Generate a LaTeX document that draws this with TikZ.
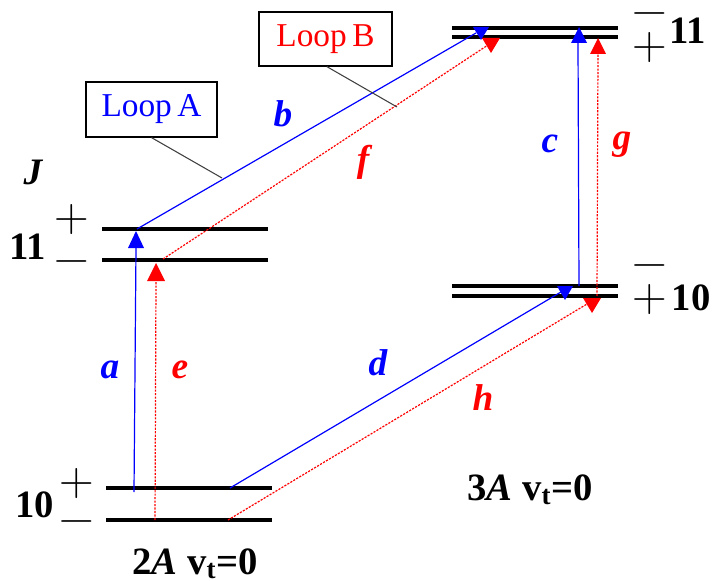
\documentclass[tikz,border=0pt]{standalone}
\usepackage{fontspec}
\setmainfont{Liberation Serif}
\begin{document}
\begin{tikzpicture}[x=0.75pt,y=-0.75pt,
  level/.style={line width=3.6pt},
  bluearr/.style={draw=blue,line width=0.9pt},
  redarr/.style={draw=red,line width=0.9pt,dash pattern=on 1.6pt off 1pt},
  bluehead/.style={fill=blue},
  redhead/.style={fill=red},
  loopbox/.style={draw,line width=0.9pt,inner sep=0pt,font=\fontsize{25}{30}\selectfont},
  leader/.style={draw=black!75,line width=0.8pt},
  num/.style={inner sep=0pt,font=\fontsize{29}{34}\selectfont\bfseries},
  sgn/.style={inner sep=0pt,anchor=center,font=\fontfamily{lmr}\fontsize{36}{40}\selectfont},
  lbl/.style={inner sep=0pt,font=\fontsize{28}{32}\selectfont\bfseries\itshape},
  vt/.style={inner sep=0pt,anchor=base,font=\fontsize{29}{34}\selectfont\bfseries}]
\useasboundingbox (0,0) rectangle (714,581);

% energy levels
\coordinate (l11pA) at (102,229); \coordinate (l11pB) at (268,229);
\coordinate (l11mA) at (102,260); \coordinate (l11mB) at (268,260);
\coordinate (l10pA) at (106,488); \coordinate (l10pB) at (272,488);
\coordinate (l10mA) at (106,520); \coordinate (l10mB) at (272,520);
\coordinate (r11mA) at (452,28);  \coordinate (r11mB) at (618,28);
\coordinate (r11pA) at (452,37);  \coordinate (r11pB) at (618,37);
\coordinate (r10mA) at (452,286); \coordinate (r10mB) at (618,286);
\coordinate (r10pA) at (452,296); \coordinate (r10pB) at (618,296);
\foreach \a/\b in {l11pA/l11pB,l11mA/l11mB,l10pA/l10pB,l10mA/l10mB,r11mA/r11mB,r11pA/r11pB,r10mA/r10mB,r10pA/r10pB}
  \draw[level] (\a) -- (\b);

% connector end points
\coordinate (a0) at (134,492); \coordinate (a1) at (136,248);
\coordinate (e0) at (155,520); \coordinate (e1) at (156,281);
\coordinate (b0) at (137,229); \coordinate (b1) at (476,33);
\coordinate (f0) at (163,259); \coordinate (f1) at (488,45);
\coordinate (c0) at (579,286); \coordinate (c1) at (578,43);
\coordinate (g0) at (597,296); \coordinate (g1) at (598,54);
\coordinate (d0) at (230,488); \coordinate (d1) at (561,292);
\coordinate (h0) at (228,520); \coordinate (h1) at (587,304);

\draw[bluearr] (a0) -- (a1);
\draw[bluearr] (b0) -- (b1);
\draw[bluearr] (c0) -- (c1);
\draw[bluearr] (d0) -- (d1);
\draw[redarr] (e0) -- (e1);
\draw[redarr] (f0) -- (f1);
\draw[redarr] (g0) -- (g1);
\draw[redarr] (h0) -- (h1);

% arrow heads
\fill[bluehead] (136,231) -- (128,248) -- (144,248) -- cycle;
\fill[redhead] (156,263) -- (147,281) -- (165,281) -- cycle;
\fill[bluehead] (481,40) -- (473,27) -- (489,27) -- cycle;
\fill[redhead] (491,53) -- (482,38) -- (500,38) -- cycle;
\fill[bluehead] (579,27) -- (571,43) -- (587,43) -- cycle;
\fill[redhead] (598,38) -- (590,54) -- (606,54) -- cycle;
\fill[bluehead] (565,300) -- (557,286) -- (573,286) -- cycle;
\fill[redhead] (592,313) -- (583,298) -- (601,298) -- cycle;

% loop boxes
\node[loopbox,text=blue,minimum width=131*0.75pt,minimum height=55*0.75pt] (loopA) at (151.5,109.5) {Loop\,A};
\node[loopbox,text=red,minimum width=133*0.75pt,minimum height=54*0.75pt] (loopB) at (325.5,39) {Loop\,B};
\coordinate (tA) at (222,178);
\coordinate (tB) at (397,107);
\draw[leader] (loopA.south) -- (tA);
\draw[leader] ([xshift=1pt]loopB.south) -- (tB);

% transition labels
\node[lbl,text=blue] (la) at (110,370) {a};
\node[lbl,text=red] (le) at (180,370) {e};
\node[lbl,text=blue] (lb) at (283,114) {b};
\node[lbl,text=red] (lf) at (363,162) {f};
\node[lbl,text=blue] (lc) at (550,144) {c};
\node[lbl,text=red] (lg) at (622,145) {g};
\node[lbl,text=blue] (ld) at (378,363) {d};
\node[lbl,text=red] (lh) at (483,398) {h};
\node[lbl] (lJ) at (33,172) {J};

% J values and parities
\node[num] (n11l) at (28,247) {11};
\node[sgn] (s11lp) at (72,220) {+};
\node[sgn] (s11lm) at (72,267) {−};
\node[num] (n10l) at (35,505) {10};
\node[sgn] (s10lp) at (77,484) {+};
\node[sgn] (s10lm) at (77,527) {−};
\node[num] (n11r) at (688,31) {11};
\node[sgn] (s11rm) at (650,19) {−};
\node[sgn] (s11rp) at (650,48) {+};
\node[num] (n10r) at (691,298) {10};
\node[sgn] (s10rm) at (650,271) {−};
\node[sgn] (s10rp) at (650,300) {+};

% state labels
\node[vt] (v2) at (195,574) {2\textit{A} v\textsubscript{t}=0};
\node[vt] (v3) at (530,500) {3\textit{A} v\textsubscript{t}=0};
\end{tikzpicture}
\end{document}
